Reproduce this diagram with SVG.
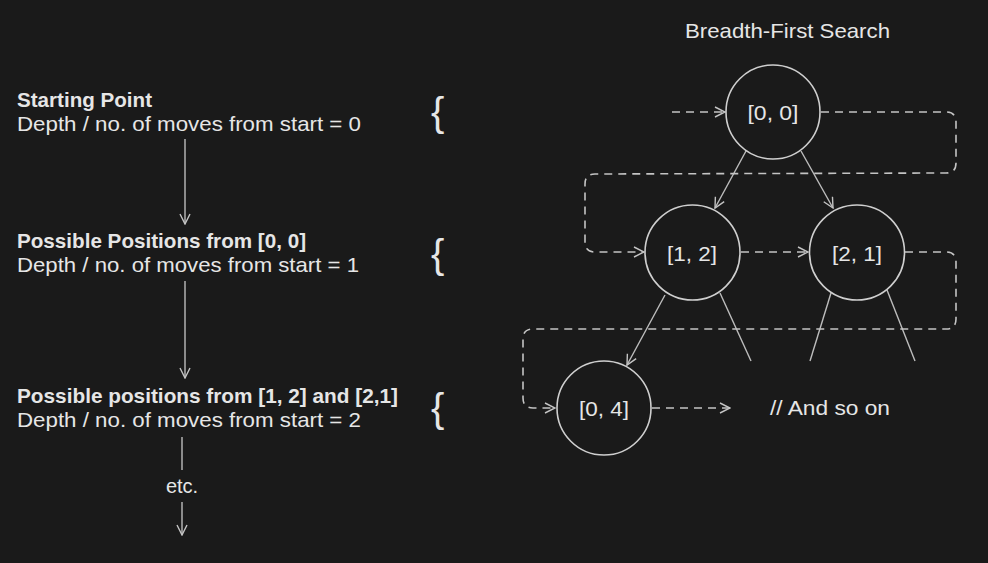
<svg xmlns="http://www.w3.org/2000/svg" width="988" height="563" viewBox="0 0 988 563">
<defs>
<style>
.t{font-family:"Liberation Sans",Arial,sans-serif;fill:#e6e6e6;font-size:21px}
.b{font-weight:bold}
.lbl{font-family:"Liberation Sans",Arial,sans-serif;fill:#e6e6e6;font-size:21px;text-anchor:middle}
.brace{font-family:"Liberation Sans",Arial,sans-serif;fill:#e6e6e6;font-size:40px}
.node{fill:none;stroke:#cfcfcf;stroke-width:1.6}
.edge{fill:none;stroke:#bdbdbd;stroke-width:1.4}
.dash{fill:none;stroke:#c4c4c4;stroke-width:1.6;stroke-dasharray:8 6}
</style>
<marker id="ah" viewBox="0 0 12 12" refX="11" refY="6" markerWidth="12" markerHeight="12" markerUnits="userSpaceOnUse" orient="auto">
<path d="M1,1 L11,6 L1,11" fill="none" stroke="#c4c4c4" stroke-width="1.4"/>
</marker>
</defs>
<rect width="988" height="563" fill="#1a1a1a"/>

<g id="left-text">
<text class="t b" x="17" y="107" textLength="135" lengthAdjust="spacingAndGlyphs">Starting Point</text>
<text class="t" x="17" y="131" textLength="344" lengthAdjust="spacingAndGlyphs">Depth / no. of moves from start = 0</text>
<text class="t b" x="17" y="248" textLength="289" lengthAdjust="spacingAndGlyphs">Possible Positions from [0, 0]</text>
<text class="t" x="17" y="272" textLength="342" lengthAdjust="spacingAndGlyphs">Depth / no. of moves from start = 1</text>
<text class="t b" x="17" y="403" textLength="381" lengthAdjust="spacingAndGlyphs">Possible positions from [1, 2] and [2,1]</text>
<text class="t" x="17" y="427" textLength="344" lengthAdjust="spacingAndGlyphs">Depth / no. of moves from start = 2</text>
<text class="t" x="182" y="493" text-anchor="middle" style="font-size:20px">etc.</text>
</g>

<g id="braces">
<text class="brace" x="431" y="126">{</text>
<text class="brace" x="431" y="268">{</text>
<text class="brace" x="431" y="422">{</text>
</g>

<g id="title"><text class="t" x="685" y="38" textLength="205" lengthAdjust="spacingAndGlyphs">Breadth-First Search</text></g>

<g id="connectors">
<line class="edge" x1="185" y1="139" x2="185" y2="224" marker-end="url(#ah)"/>
<line class="edge" x1="185" y1="281" x2="185" y2="378" marker-end="url(#ah)"/>
<line class="edge" x1="182" y1="437" x2="182" y2="470"/>
<line class="edge" x1="182" y1="502" x2="182" y2="535" marker-end="url(#ah)"/>

<line class="edge" x1="746" y1="151" x2="715" y2="208" marker-end="url(#ah)"/>
<line class="edge" x1="801" y1="151" x2="833" y2="208" marker-end="url(#ah)"/>
<line class="edge" x1="665" y1="295" x2="627" y2="365" marker-end="url(#ah)"/>
<line class="edge" x1="720" y1="293" x2="751" y2="361"/>
<line class="edge" x1="831" y1="293" x2="810" y2="361"/>
<line class="edge" x1="887" y1="290" x2="915" y2="361"/>

<path class="dash" d="M672,112 L725,112" marker-end="url(#ah)"/>
<path class="dash" d="M821,112 L946,112 Q956,112 956,122 L956,163 Q956,173 946,173 L595,174 Q585,174 585,184 L585,242 Q585,252 595,252 L644,252" marker-end="url(#ah)"/>
<path class="dash" d="M741,252 L808,252" marker-end="url(#ah)"/>
<path class="dash" d="M905,252 L946,252 Q956,252 956,262 L956,319 Q956,329 946,329 L533,329 Q523,329 523,339 L523,398 Q523,408 533,408 L555,408" marker-end="url(#ah)"/>
<path class="dash" d="M652,408 L730,408" marker-end="url(#ah)"/>
</g>

<g id="n00"><circle class="node" cx="773" cy="112" r="47"/><text class="lbl" x="773" y="120" textLength="51" lengthAdjust="spacingAndGlyphs">[0, 0]</text></g>
<g id="n12"><circle class="node" cx="692.500" cy="252.500" r="47.500"/><text class="lbl" x="692" y="261" textLength="50" lengthAdjust="spacingAndGlyphs">[1, 2]</text></g>
<g id="n21"><circle class="node" cx="857" cy="252.500" r="47.500"/><text class="lbl" x="857" y="261" textLength="50" lengthAdjust="spacingAndGlyphs">[2, 1]</text></g>
<g id="n04"><circle class="node" cx="604" cy="408" r="47"/><text class="lbl" x="604" y="416" textLength="50" lengthAdjust="spacingAndGlyphs">[0, 4]</text></g>

<g id="and-so-on"><text class="t" x="770" y="415" textLength="120" lengthAdjust="spacingAndGlyphs">// And so on</text></g>
</svg>
